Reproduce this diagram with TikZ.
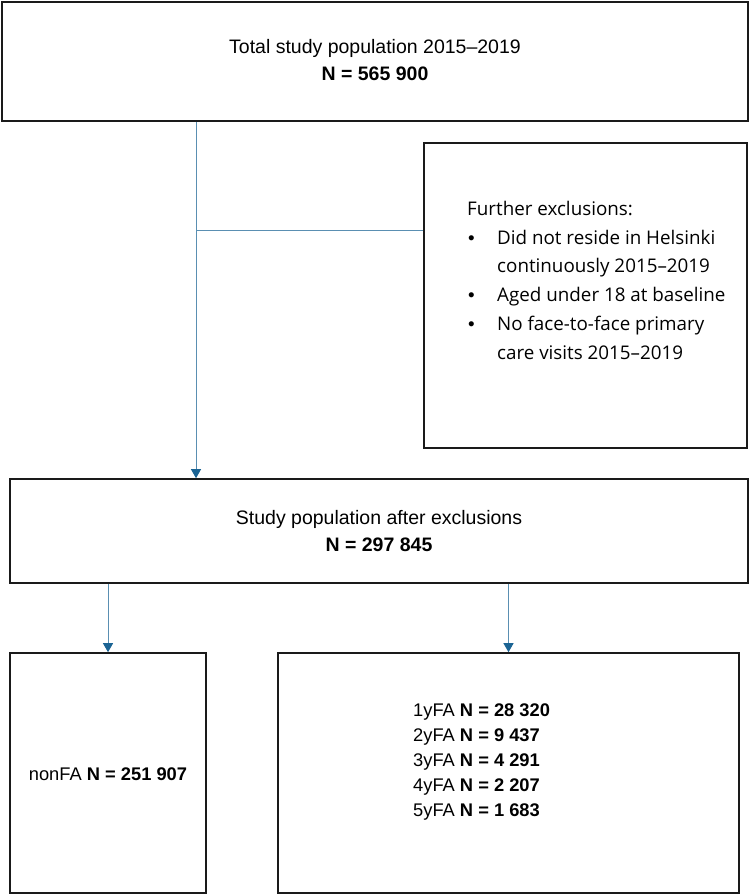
\documentclass[tikz,border=0pt]{standalone}
\usepackage{fontspec}
\setmainfont{Liberation Sans}
\newfontfamily\exfont{Open Sans}
\usetikzlibrary{arrows.meta}
\definecolor{linec}{HTML}{5A8FB2}
\definecolor{tipc}{HTML}{1B6494}
\definecolor{boxc}{HTML}{1A1A1A}
\newcommand{\exbul}{\hspace{1pt}{\rmfamily\textbullet}}
\begin{document}
\begin{tikzpicture}[x=1pt,y=-1pt,
  box/.style={draw=boxc, line width=1.6pt, rectangle, inner sep=0pt},
  conn/.style={draw=linec, line width=1pt},
  arr/.style={conn, -{Triangle[width=10pt,length=9pt,color=tipc]}},
  toptext/.style={align=center, font=\fontsize{19.5}{27}\selectfont},
  bottext/.style={align=left, inner sep=0pt, font=\fontsize{18.3}{25}\selectfont}]
\useasboundingbox (0,0) rectangle (750,895);

% boxes
\node[box, minimum width=746pt, minimum height=119pt] (top) at (375,61.5) {};
\node[box, minimum width=323pt, minimum height=305pt] (excl) at (585.5,295.5) {};
\node[box, minimum width=738pt, minimum height=104pt] (mid) at (379,531) {};
\node[box, minimum width=196pt, minimum height=240pt] (left) at (108,773) {};
\node[box, minimum width=461pt, minimum height=240pt] (right) at (508.5,773) {};

% texts
\node[toptext] (toptxt) at (375,60) {Total study population 2015–2019\\\textbf{N = 565 900}};
\node[toptext] (midtxt) at (379,531) {Study population after exclusions\\\textbf{N = 297 845}};
\node[anchor=north west, inner sep=0pt, font=\exfont\fontsize{18.8}{28.8}\selectfont] (extxt) at (467,195)
  {\begin{tabular}{@{}p{30pt}@{}l@{}}
   \multicolumn{2}{@{}l@{}}{Further exclusions:}\\
   \exbul & Did not reside in Helsinki\\
    & continuously 2015–2019\\
   \exbul & Aged under 18 at baseline\\
   \exbul & No face-to-face primary\\
    & care visits 2015–2019
   \end{tabular}};
\node[bottext] (lefttxt) at (108,774) {nonFA \textbf{N = 251 907}};
\node[bottext, anchor=west] (righttxt) at (413,762)
  {1yFA \textbf{N = 28 320}\\2yFA \textbf{N = 9 437}\\3yFA \textbf{N = 4 291}\\4yFA \textbf{N = 2 207}\\5yFA \textbf{N = 1 683}};

% connectors
\coordinate (vx) at (196,0);
\coordinate (jn) at (196,230);
\draw[arr] (top.south -| vx) -- (mid.north -| vx);
\draw[conn] (jn) -- (jn -| excl.west);
\draw[arr] (mid.south -| left.north) -- (left.north);
\draw[arr] (mid.south -| right.north) -- (right.north);
\end{tikzpicture}
\end{document}
